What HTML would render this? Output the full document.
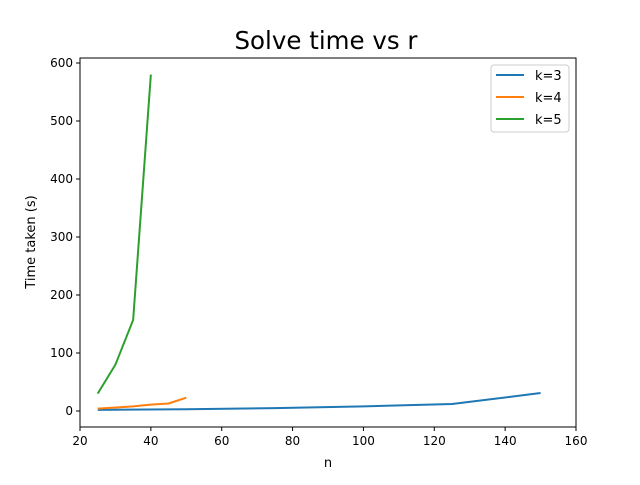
<!DOCTYPE html>
<html><head><meta charset="utf-8"><style>
body{margin:0;background:#fff;font-family:"Liberation Sans","DejaVu Sans",sans-serif}
svg text{font-family:"DejaVu Sans","Liberation Sans",sans-serif}
</style></head><body>
<svg id="chart" width="640" height="480" xmlns="http://www.w3.org/2000/svg">
<rect width="640" height="480" fill="#fff"/>
<text x="326" y="49" font-size="24.5" text-anchor="middle">Solve time vs r</text>
<g id="plot"></g>
<text x="328" y="467" font-size="13" text-anchor="middle">n</text>
<text transform="translate(35,242) rotate(-90)" font-size="13" text-anchor="middle">Time taken (s)</text>
<g>
<rect x="491" y="65" width="78" height="67" fill="#fff" stroke="#ccc" rx="3"/>
<line x1="496" y1="75" x2="524" y2="75" stroke="#1f77b4" stroke-width="2"/><text x="535" y="80" font-size="13">k=3</text>
<line x1="496" y1="97" x2="524" y2="97" stroke="#ff7f0e" stroke-width="2"/><text x="535" y="102" font-size="13">k=4</text>
<line x1="496" y1="119" x2="524" y2="119" stroke="#2ca02c" stroke-width="2"/><text x="535" y="124" font-size="13">k=5</text>
</g>
</svg>
<script>
const xTicks=[20,40,60,80,100,120,140,160];
const yTicks=[0,100,200,300,400,500,600];
const k3x=[25,50,75,100,125,150];
const k3y=[2,3,5,8,12,31];
const k4x=[25,30,35,40,45,50];
const k4y=[4,6,8,11,13,23];
const k5x=[25,30,35,40];
const k5y=[30,80,157,580];
const L=80,R=576,T=58,B=427;
const sx=v=>L+(v-20)/(140)*(R-L);
const sy=v=>411-v*0.58;
const g=document.getElementById('plot');
const NS='http://www.w3.org/2000/svg';
function mk(t,a){const e=document.createElementNS(NS,t);for(const k in a)e.setAttribute(k,a[k]);g.appendChild(e);return e;}
xTicks.forEach(v=>{const x=sx(v);
const l=mk('line',{x1:x,y1:B,x2:x,y2:B+4,stroke:'#000'});


const t=mk('text',{x:x,y:B+18,'font-size':12,'text-anchor':'middle'});t.textContent=v;

});
yTicks.forEach(v=>{const y=sy(v);
const l=mk('line',{x1:L-4,y1:y,x2:L,y2:y,stroke:'#000'});


const t=mk('text',{x:L-7,y:y+4,'font-size':12,'text-anchor':'end'});t.textContent=v;

});
function series(xs,ys,c,n){const p=mk('polyline',{points:xs.map((x,i)=>sx(x)+','+sy(ys[i])).join(' '),fill:'none',stroke:c,'stroke-width':2});

}
series(k3x,k3y,'#1f77b4','line-k3');
series(k4x,k4y,'#ff7f0e','line-k4');
series(k5x,k5y,'#2ca02c','line-k5');
const f=mk('rect',{x:L,y:T,width:R-L,height:B-T,fill:'none',stroke:'#000','stroke-width':1});


</script>
</body></html>
